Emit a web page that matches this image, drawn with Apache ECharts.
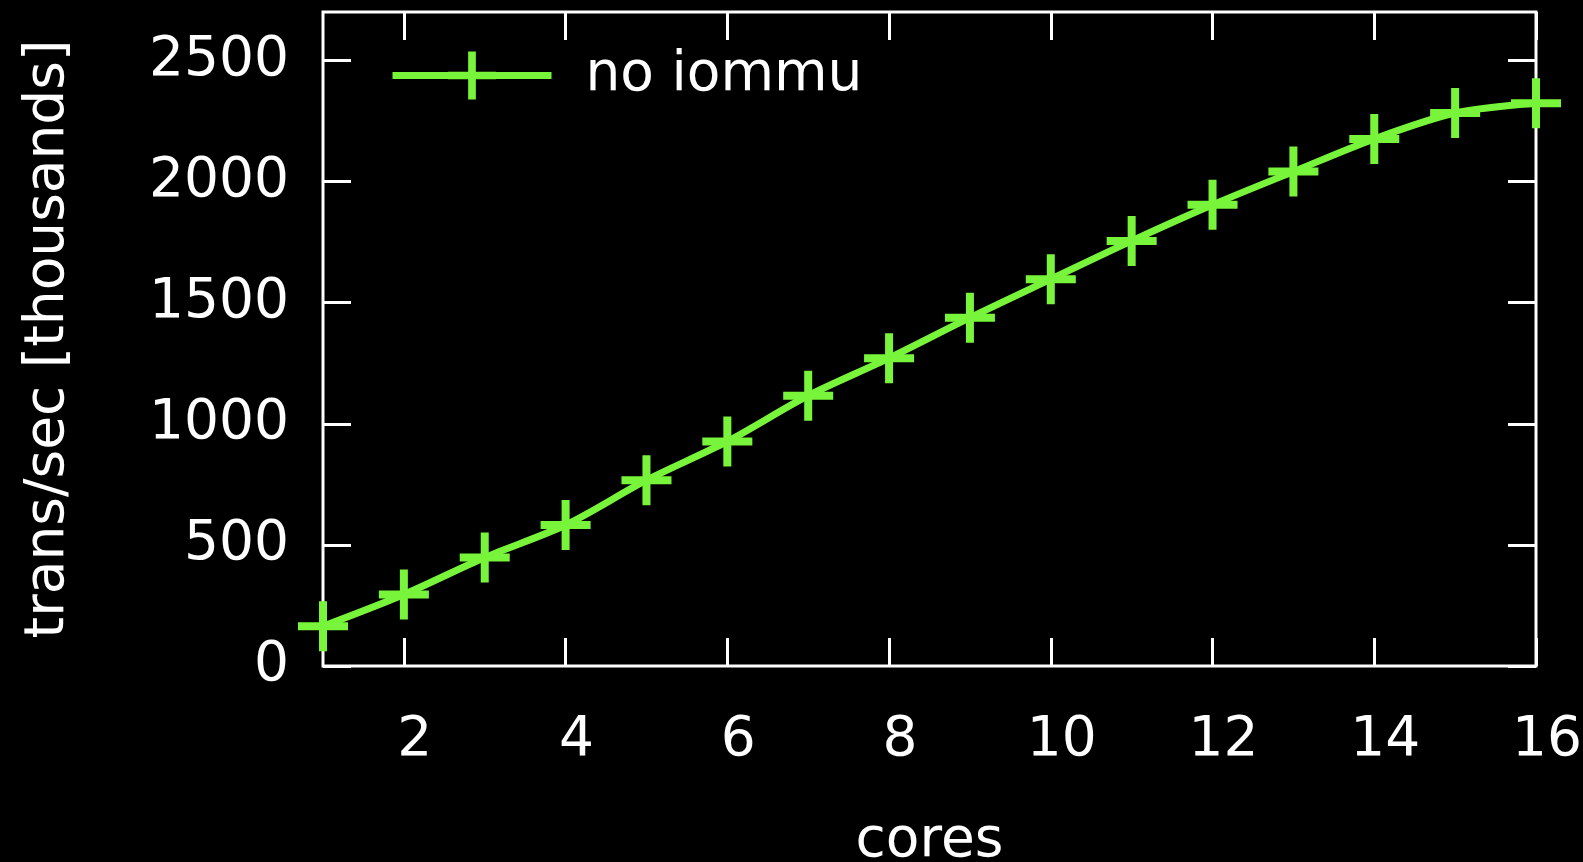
<!DOCTYPE html>
<html>
<head>
<meta charset="utf-8">
<script src="https://cdn.jsdelivr.net/npm/echarts@6/dist/echarts.min.js"></script>
<style>
html,body{margin:0;padding:0;background:#000;}
#chart{width:1583px;height:862px;}
</style>
</head>
<body>
<div id="chart"></div>
<script>
const cores = [1, 2, 3, 4, 5, 6, 7, 8, 9, 10, 11, 12, 13, 14, 15, 16];
const noIommu = [164, 295, 448, 582, 767, 927, 1116, 1271, 1438, 1597, 1755, 1904, 2041, 2176, 2283, 2323];
const xTickValues = [2, 4, 6, 8, 10, 12, 14, 16];
const yTickValues = [0, 500, 1000, 1500, 2000, 2500];
const seriesName = 'no iommu';
const xTitle = 'cores';
const yTitle = 'trans/sec [thousands]';

const FONT = 'DejaVu Sans';
const GREEN = '#78f53a';
const plus = 'path://M-4,-25 h8 v21 h21 v8 h-21 v21 h-8 v-21 h-21 v-8 h21 z';

const chart = echarts.init(document.getElementById('chart'));
const tickStyle = {show: true, inside: true, length: 28, lineStyle: {color: '#fff', width: 3}};

chart.setOption({
  backgroundColor: '#000',
  animation: false,
  textStyle: {fontFamily: FONT},
  grid: {left: 323, right: 47, top: 12, bottom: 196, show: true, borderColor: '#fff', borderWidth: 3,
         backgroundColor: 'transparent', containLabel: false, outerBoundsMode: 'none'},
  legend: {
    left: 384, top: 43, itemWidth: 159, itemHeight: 60,
    data: [seriesName],
    lineStyle: {width: 7, color: GREEN},
    textStyle: {color: '#fff', fontSize: 55, fontFamily: FONT, padding: [0, 0, 0, 29]}
  },
  xAxis: [{
    type: 'value', min: 1, max: 16, position: 'bottom',
    name: xTitle, nameLocation: 'middle', nameGap: 148,
    nameTextStyle: {color: '#fff', fontSize: 55, fontFamily: FONT},
    axisLine: {show: false, onZero: false},
    axisTick: Object.assign({customValues: xTickValues}, tickStyle),
    axisLabel: {customValues: xTickValues, color: '#fff', fontSize: 55, fontFamily: FONT, margin: 47, padding: [0, 0, 0, 22]},
    splitLine: {show: false}
  }, {
    type: 'value', min: 1, max: 16, position: 'top',
    axisLine: {show: false, onZero: false},
    axisTick: Object.assign({customValues: xTickValues}, tickStyle),
    axisLabel: {show: false},
    splitLine: {show: false}
  }],
  yAxis: [{
    type: 'value', min: 0, max: 2700, position: 'left',
    name: yTitle, nameLocation: 'middle', nameGap: 247, nameRotate: 90,
    nameTextStyle: {color: '#fff', fontSize: 55, fontFamily: FONT},
    axisLine: {show: false, onZero: false},
    axisTick: Object.assign({customValues: yTickValues}, tickStyle),
    axisLabel: {customValues: yTickValues, color: '#fff', fontSize: 55, fontFamily: FONT, margin: 34,
                formatter: v => String(v)},
    splitLine: {show: false}
  }, {
    type: 'value', min: 0, max: 2700, position: 'right',
    axisLine: {show: false, onZero: false},
    axisTick: Object.assign({customValues: yTickValues}, tickStyle),
    axisLabel: {show: false},
    splitLine: {show: false}
  }],
  series: [{
    name: seriesName,
    type: 'line',
    data: cores.map((c, i) => [c, noIommu[i]]),
    smooth: 0.3,
    clip: false,
    symbol: plus,
    symbolSize: 50,
    showAllSymbol: true,
    lineStyle: {color: GREEN, width: 7},
    itemStyle: {color: GREEN}
  }]
});
</script>
</body>
</html>
